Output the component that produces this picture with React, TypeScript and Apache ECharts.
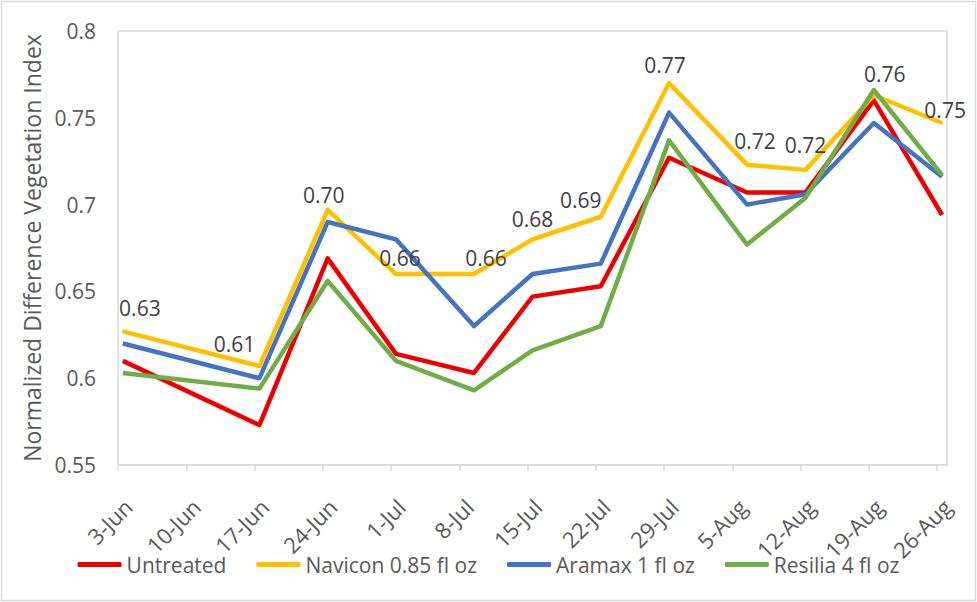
import React, { useEffect, useRef } from "react";
import * as echarts from "echarts";

// weekly tick labels on the date axis (3-Jun .. 26-Aug)
const TICK_LABELS = [
  "3-Jun", "10-Jun", "17-Jun", "24-Jun", "1-Jul", "8-Jul", "15-Jul",
  "22-Jul", "29-Jul", "5-Aug", "12-Aug", "19-Aug", "26-Aug",
];

// sampling dates (days after 3-Jun)
const SAMPLE_DATES = ["3-Jun", "17-Jun", "24-Jun", "1-Jul", "9-Jul", "15-Jul", "22-Jul", "29-Jul", "6-Aug", "12-Aug", "19-Aug", "26-Aug"];

const UNTREATED = [0.61, 0.573, 0.669, 0.614, 0.603, 0.647, 0.653, 0.727, 0.707, 0.707, 0.76, 0.694];
const NAVICON = [0.627, 0.607, 0.697, 0.66, 0.66, 0.68, 0.693, 0.77, 0.723, 0.72, 0.763, 0.747];
const ARAMAX = [0.62, 0.6, 0.69, 0.68, 0.63, 0.66, 0.666, 0.753, 0.7, 0.706, 0.747, 0.716];
const RESILIA = [0.603, 0.594, 0.656, 0.61, 0.593, 0.616, 0.63, 0.737, 0.677, 0.704, 0.766, 0.717];

const SERIES_NAMES = ["Untreated", "Navicon 0.85 fl oz", "Aramax 1 fl oz", "Resilia 4 fl oz"];
const COLORS = ["#ee0000", "#ffc000", "#4472c4", "#70ad47"];

// label nudges for the Navicon data labels (as dragged in the original)
const LABEL_OFFSETS = [
  [17, -7], [-25, -6], [-4, 2], [4, 0], [12, 0], [0, -4],
  [-20, 0], [-4, -2], [8, -7], [0, -8], [11, -5], [3, 3],
];

const MONTHS: Record<string, number> = { Jun: 5, Jul: 6, Aug: 7 };
const dayOffset = (s: string) => {
  const [d, m] = s.split("-");
  const t = Date.UTC(2019, MONTHS[m], +d) - Date.UTC(2019, 5, 3);
  return Math.round(t / 86400000);
};

const FONT = "'Open Sans', 'Noto Sans', sans-serif";
const TEXT = "#595959";

const App: React.FC = () => {
  const ref = useRef<HTMLDivElement>(null);

  useEffect(() => {
    document.body.style.margin = "0";
    if (!ref.current) return;
    const chart = echarts.init(ref.current, null, { renderer: "svg" });
    const xs = SAMPLE_DATES.map((s) => dayOffset(s) + 0.5);
    const tickVals = TICK_LABELS.map((_, i) => i * 7);
    const all = [UNTREATED, NAVICON, ARAMAX, RESILIA];

    chart.setOption({
      animation: false,
      textStyle: { fontFamily: FONT },
      graphic: [
        {
          type: "rect",
          shape: { x: 1.5, y: 1.5, width: 974, height: 599 },
          style: { fill: "none", stroke: "#d9d9d9", lineWidth: 1.5 },
          silent: true,
        },
      ],
      grid: {
        left: 118, top: 31, right: 30, bottom: 137,
        show: true, borderColor: "#d9d9d9", borderWidth: 1.5,
      },
      legend: {
        bottom: 22,
        left: "center",
        itemWidth: 44,
        itemHeight: 5,
        itemGap: 30,
        icon: "roundRect",
        textStyle: { fontSize: 21, color: TEXT, fontFamily: FONT },
        data: SERIES_NAMES,
      },
      xAxis: {
        type: "value",
        min: 0,
        max: 85,
        interval: 7,
        axisLine: { show: true, lineStyle: { color: "#d9d9d9", width: 1.5 } },
        axisTick: { show: true, customValues: tickVals, length: 6, lineStyle: { color: "#d9d9d9", width: 1.5 } },
        axisLabel: {
          rotate: 45,
          margin: 8,
          showMaxLabel: false,
          formatter: (v: number) =>
            v % 7 === 0 && TICK_LABELS[v / 7] ? `{t|${TICK_LABELS[v / 7]}}` : "",
          rich: {
            t: {
              fontSize: 22,
              color: TEXT,
              fontFamily: FONT,
              padding: [56, 14, 0, 0],
            },
          },
        },
        splitLine: { show: false },
      },
      yAxis: {
        type: "value",
        min: 0.55,
        max: 0.8,
        interval: 0.05,
        name: "Normalized Difference Vegetation Index",
        nameLocation: "middle",
        nameGap: 74,
        nameTextStyle: { fontSize: 23, color: TEXT, fontFamily: FONT },
        axisLine: { show: false },
        axisTick: { show: false },
        splitLine: { show: false },
        axisLabel: { fontSize: 21, color: TEXT, margin: 22, fontFamily: FONT },
      },
      series: all.map((vals, si) => ({
        name: SERIES_NAMES[si],
        type: "line",
        symbol: si === 1 ? "circle" : "none",
        symbolSize: 2,
        showSymbol: si === 1,
        itemStyle: { color: COLORS[si] },
        color: COLORS[si],
        lineStyle: { width: 4.5, color: COLORS[si], join: "round" },
        data: vals.map((v, i) =>
          si === 1
            ? { value: [xs[i], v], label: { offset: LABEL_OFFSETS[i] } }
            : [xs[i], v]
        ),
        label:
          si === 1
            ? {
                show: true,
                position: "top",
                distance: 5,
                fontSize: 21,
                color: "#404040",
                fontFamily: FONT,
                formatter: (p: any) => p.value[1].toFixed(2),
              }
            : { show: false },
      })),
    });
    return () => chart.dispose();
  }, []);

  return <div ref={ref} style={{ width: 977, height: 602 }} />;
};

export default App;
